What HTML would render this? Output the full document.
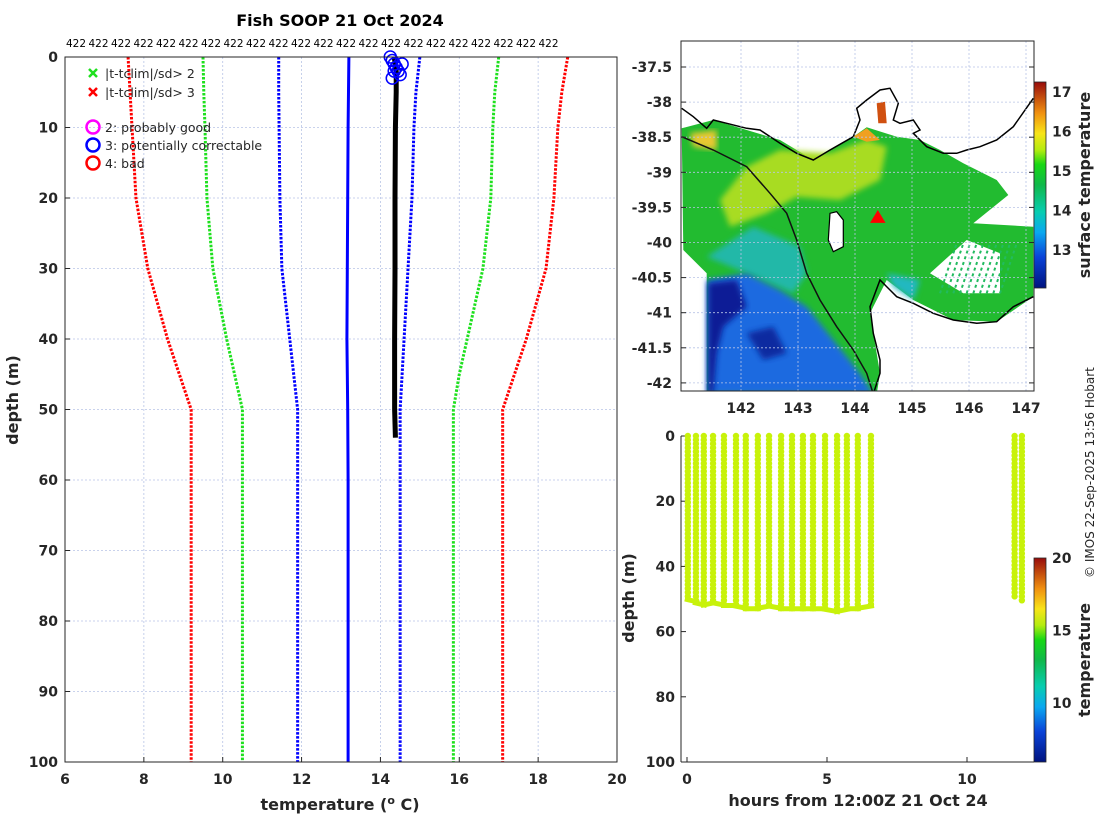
<!DOCTYPE html>
<html><head><meta charset="utf-8">
<style>
body{margin:0;background:#fff;}
svg{display:block;font-family:"DejaVu Sans","Liberation Sans",sans-serif;}
.tk{font-size:14px;font-weight:bold;fill:#262626;}
.lab{font-size:16px;font-weight:bold;fill:#262626;}
.grid{stroke:#b8c4e6;stroke-width:0.8;stroke-dasharray:2,2;}
</style></head>
<body>
<svg id="root" width="1100" height="820" viewBox="0 0 1100 820">
<defs>
<linearGradient id="jet1" x1="0" y1="1" x2="0" y2="0">
<stop offset="0" stop-color="#00137f"/><stop offset="0.15" stop-color="#0a43d8"/><stop offset="0.27" stop-color="#0aa8f0"/>
<stop offset="0.37" stop-color="#08cdb0"/><stop offset="0.5" stop-color="#10b84a"/><stop offset="0.6" stop-color="#18d814"/>
<stop offset="0.67" stop-color="#b4ec10"/><stop offset="0.75" stop-color="#f8e418"/><stop offset="0.85" stop-color="#f09010"/>
<stop offset="1" stop-color="#980c0c"/></linearGradient>
<clipPath id="mapclip"><rect x="681" y="41" width="353" height="350"/></clipPath>
<filter id="bl"><feGaussianBlur stdDeviation="3"/></filter>
</defs>
<g id="main"></g>
<g id="map"></g>
<g id="hov"></g>
<text x="1094" y="578" transform="rotate(-90 1094 578)" font-size="12" fill="#262626">© IMOS 22-Sep-2025 13:56 Hobart</text>
</svg>
<script>
// ---- profile chart data ----
const depthsClim = [0,5,10,20,30,40,45,50,60,70,80,90,100];
const red3Low  = [7.6,7.65,7.7,7.8,8.1,8.6,8.9,9.2,9.2,9.2,9.2,9.2,9.2];
const green2Low= [9.5,9.52,9.55,9.6,9.75,10.1,10.3,10.5,10.5,10.5,10.5,10.5,10.5];
const blueLow  = [11.42,11.42,11.43,11.45,11.5,11.7,11.8,11.9,11.9,11.9,11.9,11.9,11.9];
const blueMid  = [13.2,13.19,13.18,13.17,13.16,13.15,13.16,13.17,13.18,13.18,13.18,13.18,13.18];
const blueHigh = [15.0,14.9,14.85,14.8,14.7,14.6,14.55,14.5,14.5,14.5,14.5,14.5,14.5];
const green2High=[17.0,16.9,16.85,16.8,16.6,16.2,16.0,15.85,15.85,15.85,15.85,15.85,15.85];
const red3High = [18.75,18.6,18.5,18.4,18.2,17.7,17.4,17.1,17.1,17.1,17.1,17.1,17.1];
const profDepth = [0,2,5,10,20,30,40,50,54];
const profTemp  = [14.35,14.4,14.4,14.38,14.37,14.37,14.36,14.36,14.38];
const flagDepth = [0,0.5,1,1.5,2,2.5,3,1,2];
const flagTemp  = [14.25,14.3,14.35,14.4,14.45,14.5,14.3,14.55,14.35];
const xTicks = [6,8,10,12,14,16,18,20];
const yTicks = [0,10,20,30,40,50,60,70,80,90,100];
// ---- time chart data ----
const castHours = [0.03,0.32,0.6,0.93,1.32,1.75,2.1,2.53,2.93,3.36,3.75,4.14,4.5,4.93,5.36,5.71,6.1,6.57,11.7,11.96];
const castMaxDepth = [50,51,52,51,52,52,53,53,52,53,53,53,53,53,54,53,53,52,50,51];
const castTemp = [14.6,14.6,14.5,14.6,14.5,14.6,14.6,14.5,14.5,14.6,14.6,14.5,14.6,14.5,14.6,14.6,14.5,14.6,14.5,14.5];
const hovXTicks=[0,5,10], hovYTicks=[0,20,40,60,80,100];
// ---- map data ----
const lonTicks=[142,143,144,145,146,147], latTicks=[-37.5,-38,-38.5,-39,-39.5,-40,-40.5,-41,-41.5,-42];
const sstTicks=[13,14,15,16,17], tTicks=[10,15,20];
const shipLon=144.4, shipLat=-39.65;

const NS='http://www.w3.org/2000/svg';
function mk(p,tag,a,txt){const e=document.createElementNS(NS,tag);for(const k in a)e.setAttribute(k,a[k]);if(txt!==undefined)e.textContent=txt;p.appendChild(e);return e;}
const main=document.getElementById('main');
const X0=65,X1=617,Y0=57,Y1=762;
const sx=v=>X0+(v-6)/14*(X1-X0), sy=d=>Y0+d/100*(Y1-Y0);
for(const t of xTicks){const l=mk(main,'line',{x1:sx(t),x2:sx(t),y1:Y0,y2:Y1,class:'grid'});
 const tx=mk(main,'text',{x:sx(t),y:Y1+22,class:'tk','text-anchor':'middle'},t);
 mk(main,'line',{x1:sx(t),x2:sx(t),y1:Y1,y2:Y1-5,stroke:'#262626'});}
for(const t of yTicks){const l=mk(main,'line',{x1:X0,x2:X1,y1:sy(t),y2:sy(t),class:'grid'});
 const tx=mk(main,'text',{x:X0-7,y:sy(t)+5,class:'tk','text-anchor':'end'},t);
 mk(main,'line',{x1:X0,x2:X0+5,y1:sy(t),y2:sy(t),stroke:'#262626'});}
function series(arr,col,dash,w,name){const pts=depthsClim.map((d,i)=>sx(arr[i])+','+sy(d)).join(' ');
 const p=mk(main,'polyline',{points:pts,fill:'none',stroke:col,'stroke-width':w,'stroke-dasharray':dash});
 }
series(red3Low,'#f00','2.5,1.5',3,'clim-minus-3sd-line');
series(green2Low,'#1ee01e','2.5,1.5',3,'clim-minus-2sd-line');
series(blueLow,'#0000ff','2.5,1.5',3,'clim-min-line');
series(blueMid,'#0000ff','none',3,'clim-mean-line');
series(blueHigh,'#0000ff','2.5,1.5',3,'clim-max-line');
series(green2High,'#1ee01e','2.5,1.5',3,'clim-plus-2sd-line');
series(red3High,'#f00','2.5,1.5',3,'clim-plus-3sd-line');
{const p=mk(main,'polyline',{points:profDepth.map((d,i)=>sx(profTemp[i])+','+sy(d)).join(' '),fill:'none',stroke:'#000','stroke-width':5});
 }
flagDepth.forEach((d,i)=>{const c=mk(main,'circle',{cx:sx(flagTemp[i]),cy:sy(d),r:6,fill:'none',stroke:'#0000ff','stroke-width':1.5});
 });
mk(main,'rect',{x:X0,y:Y0,width:X1-X0,height:Y1-Y0,fill:'none',stroke:'#262626'});
for(let i=0;i<22;i++){const t=mk(main,'text',{x:76+i*22.5,y:47,'font-size':10.5,'text-anchor':'middle',fill:'#000'},'422');}
{let t=mk(main,'text',{x:340,y:26,'font-size':16,'font-weight':'bold','text-anchor':'middle',fill:'#000'},'Fish SOOP 21 Oct 2024');
 t=mk(main,'text',{x:340,y:810,class:'lab','text-anchor':'middle'},'temperature (');
 mk(t,'tspan',{dy:-6,'font-size':11},'o');mk(t,'tspan',{dy:6},' C)');
 t=mk(main,'text',{x:18,y:400,class:'lab','text-anchor':'middle',transform:'rotate(-90 18 400)'},'depth (m)');}
// legend
{const lg=mk(main,'g',{});
 const ents=[['x','#1ee01e',73,'|t-tclim|/sd> 2'],['x','#f00',92,'|t-tclim|/sd> 3'],['o','#ff00ff',127,'2: probably good'],['o','#0000ff',145,'3: potentially correctable'],['o','#f00',163,'4: bad']];
 for(const [m,c,y,s] of ents){const g=mk(lg,'g',{});
  if(m==='x'){mk(g,'path',{d:`M89 ${y-4}l8 8M97 ${y-4}l-8 8`,stroke:c,'stroke-width':2.5});}
  else mk(g,'circle',{cx:93,cy:y,r:6.5,fill:'none',stroke:c,'stroke-width':2.5});
  mk(g,'text',{x:105,y:y+5,'font-size':12.5,fill:'#262626'},s);}}
// ---- map ----
const map=document.getElementById('map');
const MX0=681,MX1=1034,MY0=41,MY1=391;
const mx=l=>741+(l-142)*57, my=a=>67+(-37.5-a)*70.2;
const zp=s=>s.trim().split(/\s+/).map(p=>{const [a,b]=p.split(',').map(Number);return (680+a/3).toFixed(1)+','+(40+b/3).toFixed(1);}).join(' ');
const mg=mk(map,'g',{'clip-path':'url(#mapclip)'});
function poly(pts,fill,name,f){const p=mk(mg,'polygon',{points:zp(pts),fill:fill});if(f)p.setAttribute('filter',f);}
poly('5,265 100,240 200,270 300,300 400,360 520,290 560,262 650,290 720,300 780,330 850,370 950,420 985,465 880,550 1060,560 1060,770 950,845 820,840 700,780 620,720 570,820 600,1000 590,1062 80,1062 80,700 10,630','#22bb30','sst-green-region');
poly('200,380 300,330 450,340 560,300 620,320 600,420 480,480 350,470 260,520 150,560 120,480','#a8dc20','sst-yellow-region','url(#bl)');
poly('30,280 110,270 110,330 40,320','#e8c830','sst-warm-patch','url(#bl)');
poly('520,290 560,265 600,300 560,305','#f0a020','sst-orange-patch');
poly('590,190 615,185 620,250 595,250','#d05010','sst-bay-warm');
poly('80,650 220,560 360,620 380,700 340,760 200,700','#20b8a8','sst-cyan-region','url(#bl)');
poly('80,720 200,700 300,750 380,800 460,900 540,1000 580,1062 80,1062','#1c6ae0','sst-blue-region','url(#bl)');
poly('85,730 170,720 200,800 130,860 110,940 100,1062 85,1062','#0a1a96','sst-darkblue-patch','url(#bl)');
poly('200,880 280,860 320,940 250,960','#0a2aa0','sst-darkblue-patch2','url(#bl)');
poly('620,700 720,720 700,780 640,740','#20b8c0','sst-cyan-patch','url(#bl)');
poly('750,700 860,600 960,640 960,760 850,760','#ffffff','sst-cloud-gap');
for(let i=0;i<10;i++){mk(mg,'line',{x1:(680+(780+i*20)/3),y1:40+760/3,x2:(680+(830+i*20)/3),y2:40+610/3,stroke:'#22bb60','stroke-width':2,'stroke-dasharray':'3,3'});}
poly('450,520 470,515 490,540 490,620 460,635 445,600','#ffffff','king-island');
{const c=mk(mg,'polyline',{points:zp('5,205 40,230 80,265 100,240 140,250 200,265 240,270 300,310 350,340 400,360 450,330 520,290 540,240 530,205 560,180 600,150 630,145 655,190 640,240 660,250 700,240 720,270 700,280 740,320 790,340 830,340 860,330 900,320 950,300 1000,260 1060,175'),fill:'none',stroke:'#000','stroke-width':1.5});
 
 const c2=mk(mg,'polyline',{points:zp('580,1062 600,1000 600,960 580,880 570,800 600,720 650,770 700,790 760,820 820,840 890,850 950,845 1000,800 1060,770'),fill:'none',stroke:'#000','stroke-width':1.5});
 
 const c3=mk(mg,'polyline',{points:zp('5,290 100,330 200,380 270,460 320,520 350,600 380,700 420,780 470,860 520,930 560,1000 580,1062'),fill:'none',stroke:'#111','stroke-width':1.5});
 
 mk(mg,'polygon',{points:zp('450,520 470,515 490,540 490,620 460,635 445,600'),fill:'none',stroke:'#000','stroke-width':1.2});}
for(const t of lonTicks){mk(map,'line',{x1:mx(t),x2:mx(t),y1:MY0,y2:MY1,class:'grid'});
 const tx=mk(map,'text',{x:mx(t),y:MY1+22,class:'tk','text-anchor':'middle'},t);}
for(const t of latTicks){mk(map,'line',{x1:MX0,x2:MX1,y1:my(t),y2:my(t),class:'grid'});
 const tx=mk(map,'text',{x:MX0-9,y:my(t)+5,class:'tk','text-anchor':'end'},t);
 mk(map,'line',{x1:MX0,x2:MX0+5,y1:my(t),y2:my(t),stroke:'#262626'});mk(map,'line',{x1:MX1,x2:MX1-5,y1:my(t),y2:my(t),stroke:'#262626'});}
{const s=mk(map,'path',{d:`M${mx(shipLon)} ${my(shipLat)-6}l6 10h-12z`,fill:'#f00',stroke:'#f00','stroke-width':2});}
mk(map,'rect',{x:MX0,y:MY0,width:MX1-MX0,height:MY1-MY0,fill:'none',stroke:'#262626'});
{const cb=mk(map,'rect',{x:1034,y:82,width:12,height:206,fill:'url(#jet1)',stroke:'#262626','stroke-width':0.8});
 const cy=v=>92+(17-v)*39.5;
 for(const t of sstTicks){const tx=mk(map,'text',{x:1052,y:cy(t)+5,class:'tk'},t);}
 const tl=mk(map,'text',{x:1090,y:185,class:'lab','text-anchor':'middle',transform:'rotate(-90 1090 185)','font-size':14},'surface temperature');}
// ---- time/depth chart ----
const hov=document.getElementById('hov');
const HX0=681,HX1=1034,HY0=436,HY1=762;
const hx=h=>687+h*28, hy=d=>HY0+d*3.26;
for(const t of hovXTicks){const tx=mk(hov,'text',{x:hx(t),y:HY1+22,class:'tk','text-anchor':'middle'},t);
 mk(hov,'line',{x1:hx(t),x2:hx(t),y1:HY1,y2:HY1-5,stroke:'#262626'});}
for(const t of hovYTicks){const tx=mk(hov,'text',{x:HX0-6,y:hy(t)+5,class:'tk','text-anchor':'end'},t);
 mk(hov,'line',{x1:HX0,x2:HX0+5,y1:hy(t),y2:hy(t),stroke:'#262626'});}
const tcol=v=>v<13?'#20c8a0':v<15?'#c8f20a':'#f0d010';
castHours.forEach((h,i)=>{const g=mk(hov,'g',{});
 for(let d=0;d<=castMaxDepth[i];d+=1.2)mk(g,'circle',{cx:hx(h),cy:hy(d),r:3.2,fill:tcol(castTemp[i])});
 if(i<17)mk(g,'line',{x1:hx(h)-3,x2:hx(castHours[i+1])+3,y1:hy(castMaxDepth[i]),y2:hy(castMaxDepth[i+1]),stroke:tcol(castTemp[i]),'stroke-width':5});});
mk(hov,'line',{x1:HX0,x2:HX0,y1:HY0,y2:HY1,stroke:'#262626'});
mk(hov,'line',{x1:HX0,x2:HX1,y1:HY1,y2:HY1,stroke:'#262626'});
{const cb=mk(hov,'rect',{x:1034,y:558,width:12,height:204,fill:'url(#jet1)',stroke:'#262626','stroke-width':0.8});
 const cy=v=>558+(20-v)*14.5;
 for(const t of tTicks){const tx=mk(hov,'text',{x:1052,y:cy(t)+5,class:'tk'},t);}
 let tl=mk(hov,'text',{x:1090,y:660,class:'lab','text-anchor':'middle',transform:'rotate(-90 1090 660)','font-size':14},'temperature');
 tl=mk(hov,'text',{x:858,y:806,class:'lab','text-anchor':'middle'},'hours from 12:00Z 21 Oct 24');
 tl=mk(hov,'text',{x:634,y:598,class:'lab','text-anchor':'middle',transform:'rotate(-90 634 598)'},'depth (m)');}
</script>
</body></html>
